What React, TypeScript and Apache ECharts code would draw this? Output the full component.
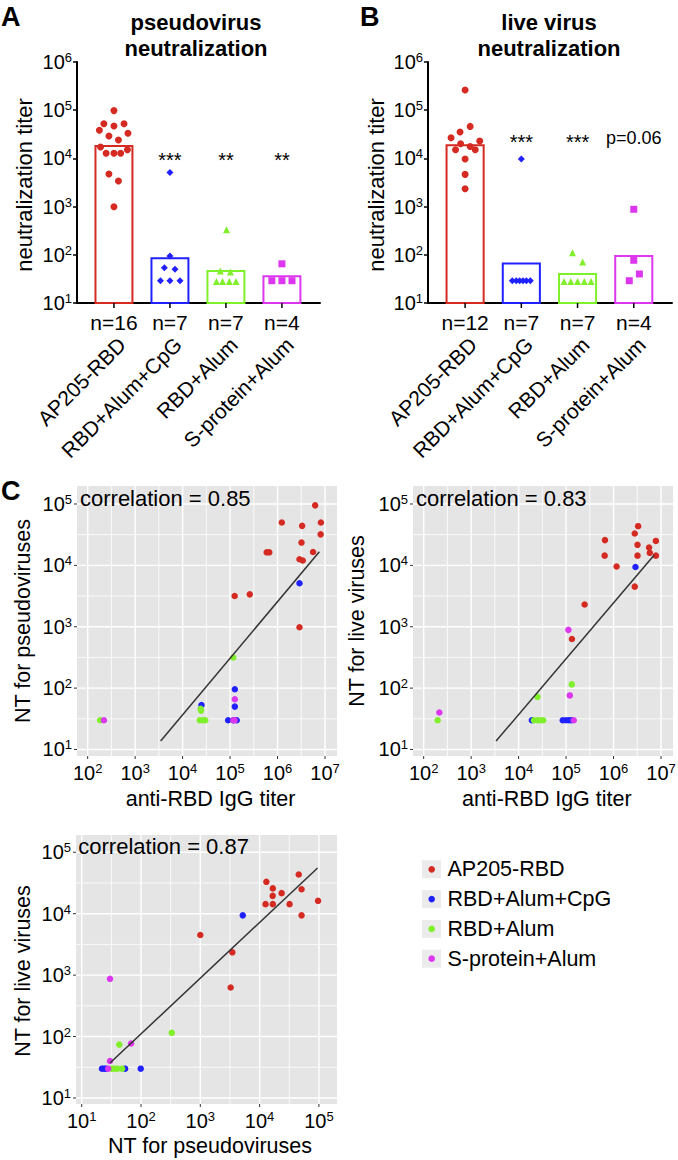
import React, { useEffect, useRef } from 'react';
import * as echarts from 'echarts';

const FONT = '"Liberation Sans", Arial, Helvetica, sans-serif';

const GROUPS = ['AP205-RBD', 'RBD+Alum+CpG', 'RBD+Alum', 'S-protein+Alum'];
const GROUP_COLORS = ['#d42a22', '#2121ff', '#80f02a', '#dc36ee'];
const GROUP_SYMBOLS = ['circle', 'diamond', 'triangle', 'rect'];

// ---------- Panel A: pseudovirus neutralization ----------
const A_N_LABELS = ['n=16', 'n=7', 'n=7', 'n=4'];
const A_BAR_VALUES = [18000, 85, 46, 36];
const A_SIG = ['', '***', '**', '**'];
const A_AP205 = [98000, 52500, 47000, 52500, 38300, 33200, 29200, 24100, 17300, 15100, 12800, 12800, 12800, 4740, 3400, 995];
const A_AP205_JITTER = [0, -0.18, 0, 0.18, -0.26, 0.25, -0.09, 0.08, -0.24, 0.24, -0.14, 0, 0.12, -0.09, 0.08, 0];
const A_CPG = [5100, 94, 54, 50, 29, 29, 29];
const A_CPG_JITTER = [0, 0, -0.1, 0.09, -0.17, 0, 0.18];
const A_ALUM = [330, 46, 44, 28, 28, 28, 28];
const A_ALUM_JITTER = [0.01, -0.1, 0.08, -0.17, -0.06, 0.06, 0.18];
const A_SPROT = [65, 29, 29, 29];
const A_SPROT_JITTER = [0, -0.18, 0, 0.18];

// ---------- Panel B: live virus neutralization ----------
const B_N_LABELS = ['n=12', 'n=7', 'n=7', 'n=4'];
const B_BAR_VALUES = [18700, 66, 40, 94];
const B_SIG = ['', '***', '***', 'p=0.06'];
const B_AP205 = [262000, 46100, 35300, 26900, 23000, 20200, 17700, 15100, 15100, 9700, 4660, 2350];
const B_AP205_JITTER = [0, 0.09, -0.09, -0.25, 0.26, -0.08, 0.09, -0.17, 0.18, 0, 0, 0];
const B_CPG = [9700, 29, 29, 29, 29, 29, 29];
const B_CPG_JITTER = [0, -0.16, -0.09, -0.03, 0.03, 0.09, 0.16];
const B_ALUM = [110, 71, 28, 28, 28, 28, 28];
const B_ALUM_JITTER = [-0.09, 0.09, -0.24, -0.12, 0, 0.12, 0.24];
const B_SPROT = [880, 77, 40, 29];
const B_SPROT_JITTER = [0, 0, 0.1, -0.08];

// ---------- Panel C: correlations ----------
// anti-RBD IgG titer vs NT pseudoviruses
const TL_AP205 = [[6.2e6, 95000], [1.23e6, 50000], [3.3e6, 44000], [8.2e6, 50000], [8.1e6, 32000], [3.2e6, 23500], [5.9e5, 16300], [6.7e5, 16300], [5.6e6, 16500], [2.9e6, 12600], [3.4e6, 12000], [1.25e5, 3170], [2.6e5, 3370], [2.9e6, 980]];
const TL_CPG = [[2.9e6, 5100], [1.26e5, 96], [2.5e4, 53], [1.26e5, 50], [9.1e4, 30], [1.17e5, 30], [1.38e5, 30]];
const TL_ALUM = [[1.17e5, 316], [2.4e4, 46], [2.45e4, 43], [2.3e4, 30], [2.7e4, 30], [3.0e4, 30], [183, 30]];
const TL_SPROT = [[220, 30], [1.26e5, 66], [1.17e5, 30], [1.25e5, 30]];
const TL_FIT = [[3450, 13.7], [7.6e6, 16600]];
const TL_R = 'correlation = 0.85';

// anti-RBD IgG titer vs NT live viruses
const TR_AP205 = [[3.3e6, 43500], [2.8e6, 33000], [6.6e5, 25800], [7.8e6, 25000], [3.2e6, 21600], [5.6e6, 19500], [5.8e6, 16000], [6.5e5, 14400], [3.2e6, 14400], [7.8e6, 14400], [1.16e6, 9600], [2.8e6, 4500], [2.46e5, 2300], [1.33e5, 630]];
const TR_CPG = [[2.9e6, 9400], [1.9e4, 30], [8.5e4, 30], [1.0e5, 30], [1.15e5, 30], [1.3e5, 30]];
const TR_ALUM = [[1.32e5, 115], [2.5e4, 72], [197, 30], [2.1e4, 30], [2.5e4, 30], [2.9e4, 30], [3.3e4, 30]];
const TR_SPROT = [[1.12e5, 890], [1.2e5, 76], [214, 40], [1.45e5, 30]];
const TR_FIT = [[3350, 13.7], [7.2e6, 14800]];
const TR_R = 'correlation = 0.83';

// NT pseudoviruses vs NT live viruses
const BL_AP205 = [[45700, 43500], [13000, 33000], [16700, 25800], [51000, 25000], [23500, 21600], [16600, 19500], [96700, 16200], [12600, 14300], [16700, 14300], [32000, 14300], [51000, 9400], [1000, 4500], [3470, 2350], [3250, 630]];
const BL_CPG = [[5200, 9400], [22, 30], [24, 30], [26, 30], [54, 30], [99, 30]];
const BL_ALUM = [[330, 115], [43, 74], [32, 30], [36, 30], [40, 30], [48, 30]];
const BL_SPROT = [[30, 870], [68, 77], [30, 40], [28, 30]];
const BL_FIT = [[30, 37], [95000, 55600]];
const BL_R = 'correlation = 0.87';

// tick decades (exponents of 10)
const TOP_X_DECADES = [2, 3, 4, 5, 6, 7];
const TOP_Y_DECADES = [1, 2, 3, 4, 5];
const BL_X_DECADES = [1, 2, 3, 4, 5];
const BL_Y_DECADES = [1, 2, 3, 4, 5];

const SUP_RICH: any = {
  b: { fontSize: 20, fontFamily: FONT, color: '#000', fill: '#000', lineHeight: 22 },
  s: { fontSize: 13, fontFamily: FONT, color: '#000', fill: '#000', verticalAlign: 'top', lineHeight: 13 },
};
const supLabel = (e: number) => `{b|10}{s|${e}}`;

function jitterPoints(cat: number, values: number[], jitter: number[]) {
  return values.map((v, i) => [cat + jitter[i], v]);
}

function barRender(nLabels: string[], sig: string[], sigLevel: number) {
  return (params: any, api: any) => {
    const i = params.dataIndex;
    const x = api.value(0);
    const v = api.value(1);
    const cs = params.coordSys;
    const top = api.coord([x, v]);
    const l = api.coord([x - 0.33, v])[0];
    const r = api.coord([x + 0.33, v])[0];
    const baseY = cs.y + cs.height;
    const cx = top[0];
    const sy = api.coord([x, sigLevel])[1];
    const s = sig[i];
    const star = s.indexOf('*') >= 0;
    return {
      type: 'group',
      children: [
        { type: 'rect', shape: { x: l, y: top[1], width: r - l, height: baseY - top[1] }, style: { fill: 'none', stroke: GROUP_COLORS[i], lineWidth: 2 } },
        { type: 'line', shape: { x1: cx, y1: baseY, x2: cx, y2: baseY + 5 }, style: { stroke: '#000', lineWidth: 1.5 } },
        { type: 'text', x: cx, y: baseY + 19, style: { text: nLabels[i], fontSize: 21, fontFamily: FONT, fill: '#000', align: 'center', verticalAlign: 'middle' } },
        { type: 'text', x: cx + 8, y: baseY + 38, rotation: Math.PI / 4, style: { text: GROUPS[i], fontSize: 21, fontFamily: FONT, fill: '#000', align: 'right', verticalAlign: 'middle' } },
        { type: 'text', x: cx, y: sy + (star ? 4.5 : 0), style: { text: s, fontSize: star ? 20 : 18, fontFamily: FONT, fill: '#000', align: 'center', verticalAlign: 'middle' } },
      ],
    };
  };
}

function gridSeries(idx: number, xDec: number[], yDec: number[], xMid: number, yMid: number) {
  const data: number[][] = [];
  xDec.forEach((e) => data.push([Math.pow(10, e), yMid, 0, e]));
  xDec.slice(1).forEach((e) => data.push([Math.pow(10, e - 0.5), yMid, 1, e]));
  yDec.forEach((e) => data.push([xMid, Math.pow(10, e), 2, e]));
  yDec.slice(1).forEach((e) => data.push([xMid, Math.pow(10, e - 0.5), 3, e]));
  return {
    type: 'custom', xAxisIndex: idx, yAxisIndex: idx, z: 1, silent: true, data,
    renderItem: (params: any, api: any) => {
      const kind = api.value(2);
      const e = api.value(3);
      const cs = params.coordSys;
      const p = api.coord([api.value(0), api.value(1)]);
      const children: any[] = [];
      if (kind === 0 || kind === 1) {
        children.push({ type: 'line', shape: { x1: p[0], y1: cs.y, x2: p[0], y2: cs.y + cs.height }, style: { stroke: '#fff', lineWidth: kind === 0 ? 1.4 : 0.8 } });
        if (kind === 0) {
          const b = cs.y + cs.height;
          children.push({ type: 'line', shape: { x1: p[0], y1: b, x2: p[0], y2: b + 3 }, style: { stroke: '#333', lineWidth: 1 } });
          children.push({ type: 'text', x: p[0], y: b + 17, style: { text: supLabel(e), rich: SUP_RICH, align: 'center', verticalAlign: 'middle', fill: '#000' } });
        }
      } else {
        children.push({ type: 'line', shape: { x1: cs.x, y1: p[1], x2: cs.x + cs.width, y2: p[1] }, style: { stroke: '#fff', lineWidth: kind === 2 ? 1.4 : 0.8 } });
        if (kind === 2) {
          children.push({ type: 'line', shape: { x1: cs.x - 3, y1: p[1], x2: cs.x, y2: p[1] }, style: { stroke: '#333', lineWidth: 1 } });
          children.push({ type: 'text', x: cs.x - 5, y: p[1], style: { text: supLabel(e), rich: SUP_RICH, align: 'right', verticalAlign: 'middle', fill: '#000' } });
        }
      }
      return { type: 'group', children };
    },
  };
}

function scatterSeries(idx: number, g: number, data: any[], size: number, symbol?: string) {
  return {
    type: 'scatter', xAxisIndex: idx, yAxisIndex: idx, z: 3, silent: true,
    symbol: symbol || 'circle', symbolSize: size, data,
    itemStyle: { color: GROUP_COLORS[g], opacity: 1 },
  };
}

function fitSeries(idx: number, data: number[][]) {
  return {
    type: 'line', xAxisIndex: idx, yAxisIndex: idx, z: 4, silent: true, data,
    showSymbol: false, symbol: 'none', lineStyle: { color: '#333', width: 1.5 },
  };
}

function buildOption(): any {
  const barX = (gi: number) => ({
    type: 'value', gridIndex: gi, min: -0.66, max: 3.68,
    axisLine: { show: true, onZero: false, lineStyle: { color: '#000', width: 2 } },
    axisTick: { show: false }, axisLabel: { show: false }, splitLine: { show: false },
  });
  const barY = (gi: number) => ({
    type: 'log', logBase: 10, gridIndex: gi, min: 10, max: 1e6,
    axisLine: { show: true, onZero: false, lineStyle: { color: '#000', width: 2 } },
    axisTick: { show: true, length: 4, lineStyle: { color: '#000', width: 1.5 } },
    axisLabel: { margin: 5, formatter: (v: number) => supLabel(Math.round(Math.log10(v))), rich: SUP_RICH },
    splitLine: { show: false },
  });
  const hidden = (gi: number, lo: number, hi: number) => ({
    type: 'log', logBase: 10, gridIndex: gi, min: Math.pow(10, lo), max: Math.pow(10, hi), show: false,
    splitLine: { show: false },
  });
  const panelGrid = { show: true, backgroundColor: '#e5e5e5', borderWidth: 0 };

  const txt = (x: number, y: number, text: string, size: number, extra: any = {}) => ({
    type: 'text', x, y, z: 100, rotation: extra.rotation || 0,
    style: { text, fontSize: size, fontFamily: FONT, fontWeight: extra.bold ? 'bold' : 'normal', fill: '#000', align: extra.align || 'center', verticalAlign: 'middle' },
  });

  const legend: any[] = [];
  GROUPS.forEach((g, i) => {
    const yc = 869.3 + i * 29.8;
    legend.push({ type: 'rect', z: 100, shape: { x: 422, y: yc - 9, width: 19, height: 18 }, style: { fill: '#ebebeb' } });
    legend.push({ type: 'circle', z: 101, shape: { cx: 431.7, cy: yc, r: 3.3 }, style: { fill: GROUP_COLORS[i] } });
    legend.push(txt(447.5, yc, g, 21.5, { align: 'left' }));
  });

  return {
    animation: false,
    backgroundColor: '#fff',
    grid: [
      { left: 77, top: 62, width: 243, height: 241 },
      { left: 428, top: 62, width: 244, height: 241 },
      { left: 77, top: 486, width: 260, height: 270, ...panelGrid },
      { left: 413, top: 486, width: 260, height: 270, ...panelGrid },
      { left: 76, top: 835, width: 261, height: 269, ...panelGrid },
    ],
    xAxis: [barX(0), barX(1), hidden(2, 1.775, 7.253), hidden(3, 1.775, 7.253), hidden(4, 0.904, 5.305)],
    yAxis: [barY(0), barY(1), hidden(2, 0.894, 5.293), hidden(3, 0.894, 5.293), hidden(4, 0.902, 5.281)],
    series: [
      { type: 'custom', xAxisIndex: 0, yAxisIndex: 0, z: 2, silent: true, data: A_BAR_VALUES.map((v, i) => [i, v]), renderItem: barRender(A_N_LABELS, A_SIG, 11400) },
      scatterSeries(0, 0, jitterPoints(0, A_AP205, A_AP205_JITTER), 7, GROUP_SYMBOLS[0]),
      scatterSeries(0, 1, jitterPoints(1, A_CPG, A_CPG_JITTER), 7, GROUP_SYMBOLS[1]),
      scatterSeries(0, 2, jitterPoints(2, A_ALUM, A_ALUM_JITTER), 7, GROUP_SYMBOLS[2]),
      scatterSeries(0, 3, jitterPoints(3, A_SPROT, A_SPROT_JITTER), 7, GROUP_SYMBOLS[3]),

      { type: 'custom', xAxisIndex: 1, yAxisIndex: 1, z: 2, silent: true, data: B_BAR_VALUES.map((v, i) => [i, v]), renderItem: barRender(B_N_LABELS, B_SIG, 26500) },
      scatterSeries(1, 0, jitterPoints(0, B_AP205, B_AP205_JITTER), 7, GROUP_SYMBOLS[0]),
      scatterSeries(1, 1, jitterPoints(1, B_CPG, B_CPG_JITTER), 7, GROUP_SYMBOLS[1]),
      scatterSeries(1, 2, jitterPoints(2, B_ALUM, B_ALUM_JITTER), 7, GROUP_SYMBOLS[2]),
      scatterSeries(1, 3, jitterPoints(3, B_SPROT, B_SPROT_JITTER), 7, GROUP_SYMBOLS[3]),

      gridSeries(2, TOP_X_DECADES, TOP_Y_DECADES, 1e4, 100),
      scatterSeries(2, 0, TL_AP205, 6.5), scatterSeries(2, 1, TL_CPG, 6.5), scatterSeries(2, 2, TL_ALUM, 6.5), scatterSeries(2, 3, TL_SPROT, 6.5),
      fitSeries(2, TL_FIT),

      gridSeries(3, TOP_X_DECADES, TOP_Y_DECADES, 1e4, 100),
      scatterSeries(3, 0, TR_AP205, 6.5), scatterSeries(3, 1, TR_CPG, 6.5), scatterSeries(3, 2, TR_ALUM, 6.5), scatterSeries(3, 3, TR_SPROT, 6.5),
      fitSeries(3, TR_FIT),

      gridSeries(4, BL_X_DECADES, BL_Y_DECADES, 1000, 1000),
      scatterSeries(4, 0, BL_AP205, 6.5), scatterSeries(4, 1, BL_CPG, 6.5), scatterSeries(4, 2, BL_ALUM, 6.5), scatterSeries(4, 3, BL_SPROT, 6.5),
      fitSeries(4, BL_FIT),
    ],
    graphic: [
      txt(1, 17, 'A', 27, { bold: true, align: 'left' }),
      txt(360, 17, 'B', 27, { bold: true, align: 'left' }),
      txt(1, 491, 'C', 27, { bold: true, align: 'left' }),
      txt(196, 22, 'pseudovirus', 22, { bold: true }),
      txt(196, 48, 'neutralization', 22, { bold: true }),
      txt(549, 22, 'live virus', 22, { bold: true }),
      txt(549, 48, 'neutralization', 22, { bold: true }),
      txt(24, 185, 'neutralization titer', 22, { rotation: Math.PI / 2 }),
      txt(376, 185, 'neutralization titer', 22, { rotation: Math.PI / 2 }),
      txt(23, 621, 'NT for pseudoviruses', 21.5, { rotation: Math.PI / 2 }),
      txt(356.5, 621, 'NT for live viruses', 21.5, { rotation: Math.PI / 2 }),
      txt(23, 971, 'NT for live viruses', 21.5, { rotation: Math.PI / 2 }),
      txt(210.5, 799, 'anti-RBD IgG titer', 21.5),
      txt(546.8, 799, 'anti-RBD IgG titer', 21.5),
      txt(210, 1146, 'NT for pseudoviruses', 21.5),
      txt(80, 498.4, TL_R, 22, { align: 'left' }),
      txt(416, 498.4, TR_R, 22, { align: 'left' }),
      txt(78.3, 846.7, BL_R, 22, { align: 'left' }),
      ...legend,
    ],
  };
}

export default function App() {
  const ref = useRef<HTMLDivElement>(null);
  useEffect(() => {
    if (!ref.current) return;
    const chart = echarts.init(ref.current, null, { renderer: 'svg' });
    chart.setOption(buildOption());
    return () => chart.dispose();
  }, []);
  return <div ref={ref} style={{ position: 'absolute', left: 0, top: 0, width: 678, height: 1160, background: '#fff' }} />;
}
